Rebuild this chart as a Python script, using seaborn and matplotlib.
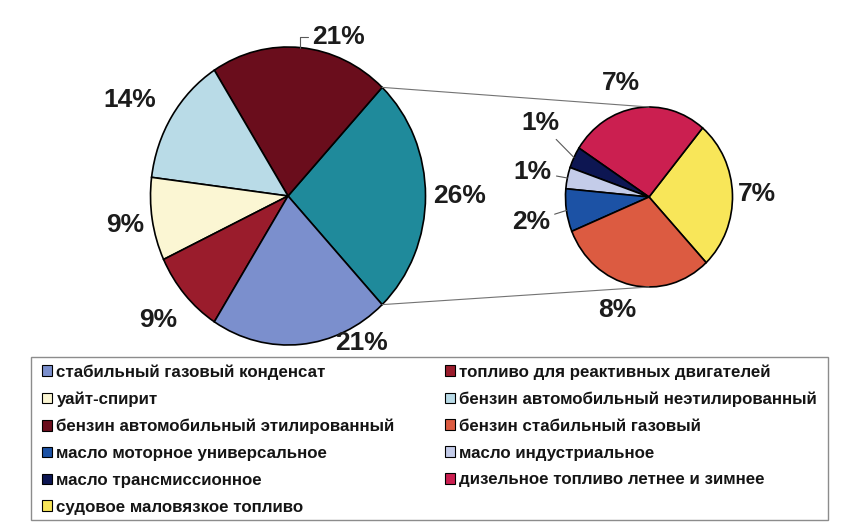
import matplotlib
matplotlib.use("Agg")
import matplotlib.pyplot as plt
from matplotlib.patches import Patch, ConnectionPatch, Rectangle
import numpy as np
import seaborn as sns

# data: main pie (counterclockwise after the aggregated slice) and detail pie
main_names = [
    "бензин автомобильный этилированный",
    "бензин автомобильный неэтилированный",
    "уайт-спирит",
    "топливо для реактивных двигателей",
    "стабильный газовый конденсат",
]
main_values = [21, 14, 9, 9, 21]
main_colors = ["#6a0d1c", "#b9dbe7", "#fbf6d3", "#9a1c2c", "#7b8fcd"]
other_color = "#1f8a9b"

small_names = [
    "судовое маловязкое топливо",
    "дизельное топливо летнее и зимнее",
    "масло трансмиссионное",
    "масло индустриальное",
    "масло моторное универсальное",
    "бензин стабильный газовый",
]
small_values = [7, 7, 1, 1, 2, 8]
small_colors = ["#f8e659", "#cb1f50", "#0d1652", "#c4cce9", "#1c52a5", "#dc5b41"]

legend_order = [
    "стабильный газовый конденсат",
    "уайт-спирит",
    "бензин автомобильный этилированный",
    "масло моторное универсальное",
    "масло трансмиссионное",
    "судовое маловязкое топливо",
    "топливо для реактивных двигателей",
    "бензин автомобильный неэтилированный",
    "бензин стабильный газовый",
    "масло индустриальное",
    "дизельное топливо летнее и зимнее",
]

sns.set_theme(style="white")
plt.rcParams["font.family"] = ["Liberation Sans", "DejaVu Sans"]

W, H = 849, 532
fig = plt.figure(figsize=(W / 100, H / 100), dpi=100)


def px_axes(cx, cy, rx, ry):
    return fig.add_axes([(cx - rx) / W, 1 - (cy + ry) / H, 2 * rx / W, 2 * ry / H])


other = sum(small_values)
start = -other / 100 * 360 / 2

ax_main = px_axes(288, 196, 137.5, 149)
ax_small = px_axes(649, 197, 83.5, 90)

wedge_kw = dict(edgecolor="black", linewidth=1.2)
ax_main.pie([other] + main_values, colors=[other_color] + main_colors,
            startangle=start, counterclock=True, wedgeprops=wedge_kw)
ax_small.pie(small_values, colors=small_colors,
             startangle=start, counterclock=True, wedgeprops=wedge_kw)
for ax in (ax_main, ax_small):
    ax.set_aspect("auto")
    ax.set_xlim(-1, 1)
    ax.set_ylim(-1, 1)
    ax.axis("off")

lab_kw = dict(fontsize=19, fontweight="bold", color="#1c1c1c", ha="center", va="center")


def pt(angle, r=1.0):
    a = np.deg2rad(angle)
    return r * np.cos(a), r * np.sin(a)


# label placement (angle, radius) per slice
main_pos = [(0, 1.25), (71, 1.13), (150.7, 1.32), (189.3, 1.2), (221.4, 1.26), (298.6, 1.12)]
main_all = [other] + main_values
edges = start + np.cumsum([0] + main_all) / 100 * 360
for i, (v, (ang, r)) in enumerate(zip(main_all, main_pos)):
    if i == 1:
        ax_main.annotate(f"{v}%", xy=pt(85), xytext=pt(ang, r), **lab_kw,
                         arrowprops=dict(arrowstyle="-", color="0.35", lw=0.8,
                                         connectionstyle="angle,angleA=180,angleB=90,rad=0",
                                         shrinkA=1, shrinkB=0))
    else:
        ax_main.text(*pt(ang, r), f"{v}%", **lab_kw)

small_pos = [(1.6, 1.29), (105, 1.31), (147.8, 1.54), (168.6, 1.42), (191, 1.44), (253, 1.31)]
sedges = start + np.cumsum([0] + small_values) / other * 360
for i, (v, (ang, r)) in enumerate(zip(small_values, small_pos)):
    if v <= 2:
        mid = (sedges[i] + sedges[i + 1]) / 2
        ax_small.annotate(f"{v}%", xy=pt(mid, 1.0), xytext=pt(ang, r), **lab_kw,
                          arrowprops=dict(arrowstyle="-", color="0.35", lw=0.8,
                                          shrinkA=1, shrinkB=0))
    else:
        ax_small.text(*pt(ang, r), f"{v}%", **lab_kw)

# lines joining the aggregated slice to the detail pie
for a_main, y_small in ((edges[1], 1), (edges[0], -1)):
    con = ConnectionPatch(xyA=pt(a_main), coordsA=ax_main.transData,
                          xyB=(0, y_small), coordsB=ax_small.transData,
                          color="0.45", lw=0.8)
    fig.add_artist(con)

# legend: entries spread across the box, frame drawn separately
color_of = dict(zip(main_names + small_names, main_colors + small_colors))
handles = [Patch(facecolor=color_of[n], edgecolor="black", linewidth=0.8, label=n)
           for n in legend_order]
fs = 12.2
leg = fig.legend(handles=handles, loc="upper left", ncol=2, mode="expand",
                 bbox_to_anchor=(42 / W, 1 - 364 / H, (817 - 42) / W, 0),
                 frameon=False,
                 prop=dict(family=["Liberation Sans", "DejaVu Sans"], size=fs, weight="bold"),
                 labelcolor="#151515",
                 handlelength=0.6, handleheight=0.6, handletextpad=0.25,
                 labelspacing=0.7, borderpad=0, borderaxespad=0)
fig.add_artist(Rectangle((31 / W, 1 - 520 / H), 797 / W, 163 / H, transform=fig.transFigure,
                         fill=False, edgecolor="0.55", linewidth=1.0))

fig.savefig("out.png", dpi=100)
